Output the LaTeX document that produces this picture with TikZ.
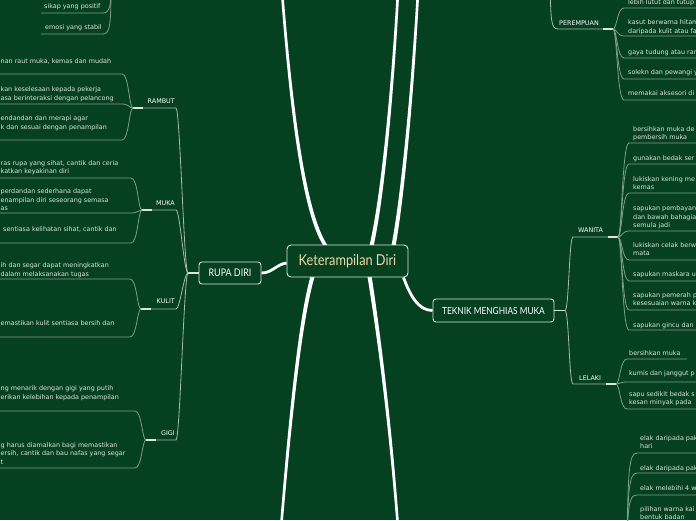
\documentclass[tikz,border=0pt]{standalone}
\usepackage{fontspec}
\setmainfont{DejaVu Sans}
\newfontfamily\hand[FakeStretch=0.85]{Lato}
\usetikzlibrary{calc,backgrounds}
\definecolor{bg}{HTML}{054020}
\definecolor{leafline}{HTML}{7E9E86}
\definecolor{catline}{HTML}{A9BBA9}
\definecolor{stubc}{HTML}{DCE4DC}
\definecolor{txt}{HTML}{DDE5DD}
\definecolor{tanc}{HTML}{EDD9A3}
\definecolor{boxline}{HTML}{DDE5DD}
\tikzset{
  leaf/.style={inner sep=0pt, align=left, anchor=base west, text=txt, font=\fontsize{6.4}{8.3}\selectfont},
  catl/.style={inner sep=0pt, text=white, font=\fontsize{6.4}{8.3}\selectfont},
  mainbox/.style={draw=boxline, fill=bg, rounded corners=4pt, line width=0.9pt, inner sep=0pt},
  trunk/.style={white, line width=2.8pt},
  lline/.style={leafline, line width=0.8pt},
  cline/.style={catline, line width=0.8pt},
  stubline/.style={stubc, line width=1.5pt},
}
% right-side leaf: name, junction, dy, x, last baseline, text, length
\newcommand\rleaf[7]{%
  \node[leaf] (#1) at (#4,#5) {#6};
  \draw[lline] (#2) .. controls +(4,0) and +(-7,0) .. ++(11,#3) -- ++(#7,0);}
% left-side leaf: name, junction, dy, x, last baseline, text
\newcommand\lleaf[6]{%
  \node[leaf] (#1) at (#4,#5) {#6};
  \draw[lline] (#2) .. controls +(-4,0) and +(7,0) .. ++(-11,#3) -- ++(-160,0);}
% tapered trunk: start, ctrl1, ctrl2, end (coordinate names)
\newcommand\taper[4]{%
  \fill[white] ($(#1)+(-2.1,0)$) .. controls ($(#2)+(-1.8,0)$) and ($(#3)+(-1.5,0)$) .. ($(#4)+(-1.3,0)$)
     -- ($(#4)+(1.3,0)$) .. controls ($(#3)+(1.5,0)$) and ($(#2)+(1.8,0)$) .. ($(#1)+(2.1,0)$) -- cycle;}
\begin{document}
\begin{tikzpicture}[x=1pt,y=-1pt]
\useasboundingbox (0,0) rectangle (696,520);
\clip (0,0) rectangle (696,520);

% ---------- main nodes ----------
\node[mainbox, minimum width=121pt, minimum height=32pt, text=tanc, font=\hand\fontsize{15}{16}\selectfont] (ctr) at (347.5,261) {Keterampilan Diri};
\node[mainbox, rounded corners=3pt, minimum width=62pt, minimum height=22pt, text=white, font=\hand\fontsize{10.5}{12}\selectfont] (rupa) at (230,273) {RUPA DIRI};
\node[mainbox, rounded corners=3pt, minimum width=121pt, minimum height=23pt, text=white, font=\hand\fontsize{9.8}{11}\selectfont] (teknik) at (493.5,310.5) {TEKNIK MENGHIAS MUKA};

% ---------- trunks ----------
\coordinate (a0) at ($(ctr.north west)+(39,1)$);
\coordinate (a1) at (305,215); \coordinate (a2) at (292,120);
\coordinate (topA) at (282,-8);
\coordinate (b0) at ($(ctr.south west)+(26,-1)$);
\coordinate (b1) at (300,320); \coordinate (b2) at (290,420);
\coordinate (botB) at (281,528);
\coordinate (c0) at ($(ctr.north west)+(85,1)$);
\coordinate (c1) at (382,200); \coordinate (c2) at (392,100);
\coordinate (topC) at (398,-8);
\coordinate (d0) at ($(ctr.north west)+(107,1)$);
\coordinate (d1) at (402,200); \coordinate (d2) at (412,100);
\coordinate (topD) at (418,-8);
\coordinate (e0) at ($(ctr.south west)+(83,-1)$);
\coordinate (e1) at (378,330); \coordinate (e2) at (390,420);
\coordinate (botE) at (398,528);
\begin{scope}[on background layer]
\fill[bg] (0,0) rectangle (696,520);
\taper{a0}{a1}{a2}{topA}
\taper{b0}{b1}{b2}{botB}
\taper{c0}{c1}{c2}{topC}
\taper{d0}{d1}{d2}{topD}
\taper{e0}{e1}{e2}{botE}
\draw[trunk] ($(ctr.south east)+(-5,0)$) .. controls (410,295) and (418,310.5) .. (teknik.west);
\draw[trunk] ($(ctr.west)+(0,2)$) .. controls (277,264) and (272,273) .. (rupa.east);
\end{scope}

% ---------- RUPA DIRI branch ----------
\coordinate (rj) at (188,273);
\draw[stubline] (rupa.west) -- (rj);
\node[catl, anchor=base east] (rambut) at (175,103.5) {RAMBUT};
\node[catl, anchor=base east] (mukaL) at (175,205.5) {MUKA};
\node[catl, anchor=base east] (kulit) at (175,303.5) {KULIT};
\node[catl, anchor=base east] (gigi) at (175,435) {GIGI};
\coordinate (jR) at (133,108);
\coordinate (jM) at (142,210);
\coordinate (jK) at (141,309);
\coordinate (jG) at (146,440);
\foreach \j in {jR,jM,jK,jG}{
  \draw[cline] (rj) .. controls +(-4,0) and +(4,0) .. (176,0 |- \j) -- (\j);
  \draw[stubline] (\j) -- ++(10,0);
}

\lleaf{r1}{jR}{-34}{0.5}{63}{nan raut muka, kemas dan mudah}
\lleaf{r2}{jR}{-4}{0.5}{100}{kan keselesaan kepada pekerja\\asa berinteraksi dengan pelancong}
\lleaf{r3}{jR}{32}{0.5}{129}{endandan dan merapi agar\\k dan sesuai dengan penampilan}

\lleaf{m1}{jM}{-32}{0.5}{173.5}{ras rupa yang sihat, cantik dan ceria\\katkan keyakinan diri}
\lleaf{m2}{jM}{3}{0.5}{210.5}{perdandan sederhana dapat\\enampilan diri seseorang semasa\\as}
\lleaf{m3}{jM}{33}{3}{231}{sentiasa kelihatan sihat, cantik dan}

\lleaf{k1}{jK}{-30}{0.5}{276}{ih dan segar dapat meningkatkan\\dalam melaksanakan tugas}
\lleaf{k2}{jK}{28}{0.5}{325}{emastikan kulit sentiasa bersih dan}

\lleaf{g1}{jG}{-29}{0.5}{399}{ng menarik dengan gigi yang putih\\erikan kelebihan kepada penampilan}
\lleaf{g2}{jG}{28}{0.5}{464}{g harus diamalkan bagi memastikan\\ersih, cantik dan bau nafas yang segar\\t}

% ---------- top-left partial branch ----------
\coordinate (jS) at (111,-15);
\node[leaf] (s1) at (44,8.5) {sikap yang positif};
\node[leaf] (s2) at (45,29.5) {emosi yang stabil};
\draw[lline] (jS) .. controls (111,5) and (110,13) .. (103,13) -- (41,13);
\draw[lline] (jS) .. controls (111,25) and (110,34) .. (103,34) -- (41,34);

% ---------- PEREMPUAN branch ----------
\coordinate (pin) at (550,-12);
\coordinate (jP) at (613,29);
\node[catl, anchor=base west] (perempuan) at (559,25.5) {PEREMPUAN};
\draw[cline] (pin) .. controls (551,20) and (551,29) .. (558,29) -- (jP);
\draw[stubline] (jP) -- ++(-10,0);
\rleaf{p1}{jP}{-21}{628}{4.5}{lebih lutut dan tutup}{80}
\rleaf{p2}{jP}{7}{628}{33}{kasut berwarna hitam\\daripada kulit atau fa}{80}
\rleaf{p3}{jP}{29}{628}{54}{gaya tudung atau ran}{80}
\rleaf{p4}{jP}{50}{628}{74.5}{solekn dan pewangi y}{80}
\rleaf{p5}{jP}{71}{628}{95.5}{memakai aksesori di}{80}

% ---------- TEKNIK branch ----------
\coordinate (tj) at (565,310.5);
\draw[stubline] (teknik.east) -- (tj);
\node[catl, anchor=base west] (wanita) at (578,232.5) {WANITA};
\node[catl, anchor=base west] (lelaki) at (579,380) {LELAKI};
\coordinate (jW) at (618,237);
\coordinate (jL) at (616,384);
\draw[cline] (tj) .. controls +(4,0) and +(-4,0) .. (573,237) -- (jW);
\draw[cline] (tj) .. controls +(4,0) and +(-4,0) .. (573,384) -- (jL);
\draw[stubline] (jW) -- ++(-10,0);
\draw[stubline] (jL) -- ++(-10,0);

\rleaf{w1}{jW}{-94}{633}{139.5}{bersihkan muka de\\pembersih muka}{80}
\rleaf{w2}{jW}{-73}{633}{160.5}{gunakan bedak ser}{80}
\rleaf{w3}{jW}{-44}{633}{189.5}{lukiskan kening me\\kemas}{80}
\rleaf{w4}{jW}{-6}{633}{227.5}{sapukan pembayan\\dan bawah bahagia\\semula jadi}{80}
\rleaf{w5}{jW}{23}{633}{255.5}{lukiskan celak berw\\mata}{80}
\rleaf{w6}{jW}{44}{633}{276.5}{sapukan maskara u}{80}
\rleaf{w7}{jW}{73}{633}{305.5}{sapukan pemerah p\\kesesuaian warna k}{80}
\rleaf{w8}{jW}{93}{633}{327}{sapukan gincu dan}{80}

\rleaf{l1}{jL}{-25}{629}{355}{bersihkan muka}{60}
\rleaf{l2}{jL}{-2}{629}{375.5}{kumis dan janggut p}{80}
\rleaf{l3}{jL}{25}{629}{404.5}{sapu sedikit bedak s\\kesan minyak pada}{80}

% ---------- bottom-right partial branch ----------
\coordinate (jB) at (627,545);
\node[leaf] (bb1) at (640,448.5) {elak daripada pak\\hari};
\node[leaf] (bb2) at (640,470) {elak daripada pak};
\node[leaf] (bb3) at (640,490.5) {elak melebihi 4 w};
\node[leaf] (bb4) at (640,519.5) {pilihan warna kai\\bentuk badan};
\draw[lline] (jB) .. controls (628,470) and (629,453) .. (637,453) -- ++(80,0);
\draw[lline] (jB) .. controls (628,490) and (629,473) .. (637,473) -- ++(80,0);
\draw[lline] (jB) .. controls (628,505) and (629,495) .. (637,495) -- ++(80,0);
\draw[lline] (jB) .. controls (628,530) and (629,525) .. (637,525) -- ++(80,0);
\end{tikzpicture}
\end{document}
